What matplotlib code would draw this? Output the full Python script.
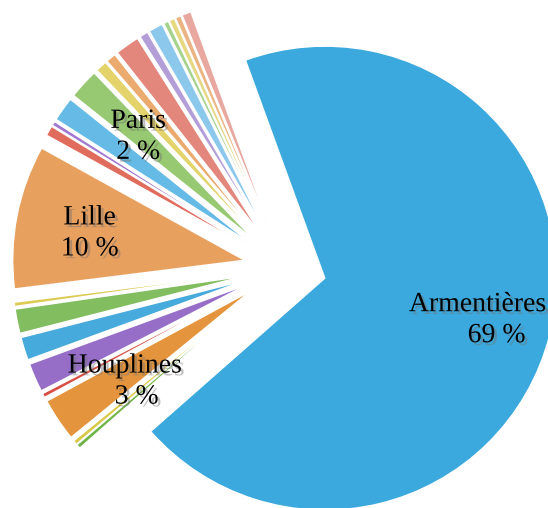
import numpy as np
import matplotlib
matplotlib.use("Agg")
import matplotlib.pyplot as plt
import matplotlib.patheffects as pe

# ---------------- data ----------------
labels = ["Armentières", "", "", "Houplines", "", "", "", "", "", "Lille",
          "", "", "", "Paris", "", "", "", "", "", "", "", "", ""]
values = [69.0, 0.3, 0.3, 3.0, 0.3, 2.0, 1.6, 1.7, 0.3, 10.0,
          0.7, 0.3, 1.7, 2.1, 0.8, 0.7, 1.7, 0.6, 1.0, 0.35, 0.4, 0.4, 0.65]
pct_text = ["69 %", "", "", "3 %", "", "", "", "", "", "10 %",
            "", "", "", "2 %", "", "", "", "", "", "", "", "", ""]
colors = ["#3BA9DD", "#6EB446", "#D8C846", "#E4943C", "#D75046", "#966EC8",
          "#46AADC", "#82BE5F", "#DCCB55", "#E8A05F",
          "#E06C5E", "#A078D2", "#66BBE6", "#97C973", "#E3D36A", "#EBAA6E",
          "#E3877C", "#B49ED8", "#8CC8EB", "#A5D28C", "#E6D782", "#EBB482",
          "#E8A8A0"]

# ---------------- layout ----------------
W, H = 548, 508
R_PX = 232.0
CX, CY = 285.0, 268.0          # pie centre in pixels (from top-left)
EXPLODE = 0.177
START = 110

fig = plt.figure(figsize=(W / 100, H / 100), dpi=100)
ax = fig.add_axes([0, 0, 1, 1])

wedges, _ = ax.pie(values, explode=[EXPLODE] * len(values), colors=colors,
                   startangle=START, counterclock=False, radius=1.0,
                   center=(0, 0),
                   wedgeprops=dict(edgecolor="white", linewidth=1.0))

ax.set_xlim(-CX / R_PX, (W - CX) / R_PX)
ax.set_ylim(-(H - CY) / R_PX, CY / R_PX)
ax.set_aspect("equal", adjustable="box")
ax.axis("off")

shadow = [pe.withSimplePatchShadow(offset=(2, -2), shadow_rgbFace=(0.45, 0.45, 0.45),
                                   alpha=0.45)]
font = dict(family=["Liberation Serif", "DejaVu Serif"], fontsize=20, color="black")

# extra horizontal shift of the percentage line (pixels), as in reference
pct_dx = {"Armentières": 19, "Houplines": 17}
name_dx = {"Houplines": 5}

for w, name, pt in zip(wedges, labels, pct_text):
    if not name:
        continue
    mid = np.deg2rad(0.5 * (w.theta1 + w.theta2))
    cx, cy = w.center
    ax_x = cx + 0.68 * np.cos(mid)
    ax_y = cy + 0.68 * np.sin(mid)
    ndx = name_dx.get(name, 0) / R_PX
    pdx = pct_dx.get(name, 0) / R_PX
    ax.text(ax_x + ndx, ax_y + 6 / R_PX, name, ha="center", va="baseline",
            path_effects=shadow, **font)
    ax.text(ax_x + pdx, ax_y - 25 / R_PX, pt, ha="center", va="baseline",
            path_effects=shadow, **font)

fig.savefig("out.png", dpi=100)
